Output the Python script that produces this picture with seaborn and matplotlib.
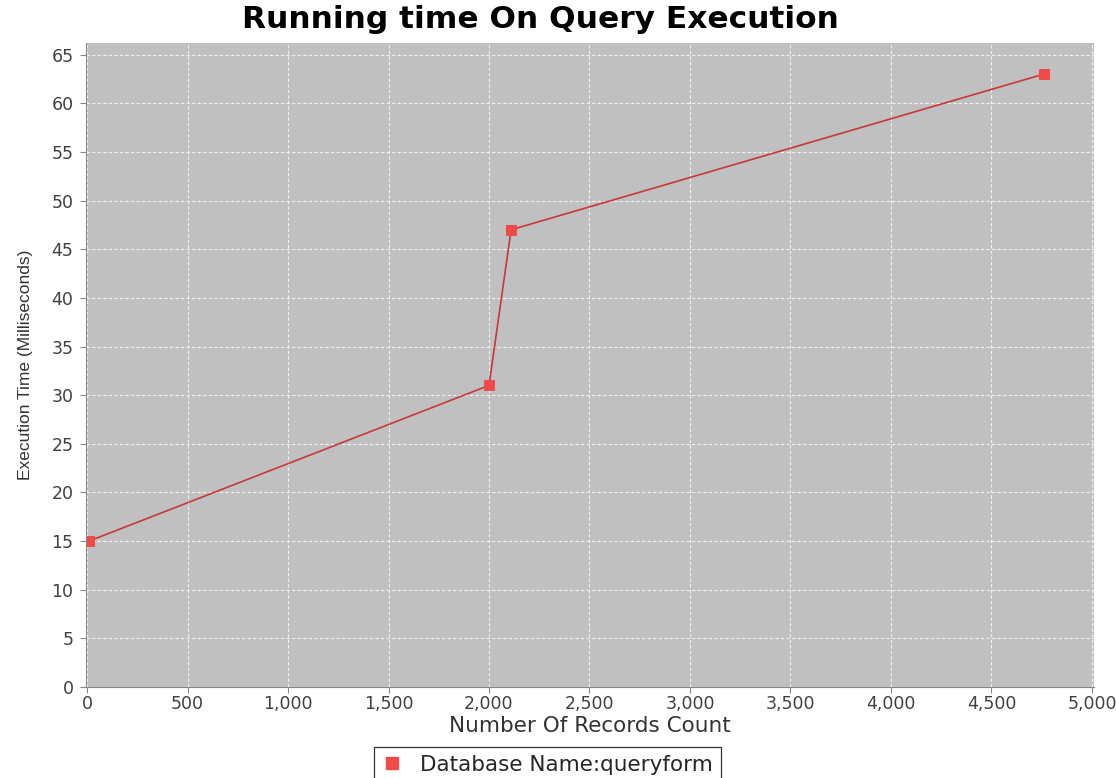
import matplotlib
matplotlib.use("Agg")
import matplotlib.pyplot as plt
import matplotlib.ticker as mticker
from matplotlib.lines import Line2D
import seaborn as sns
import pandas as pd

records = [10, 2000, 2110, 4760]
exec_ms = [15, 31, 47, 63]
series_name = "Database Name:queryform"
title = "Running time On Query Execution"
x_label = "Number Of Records Count"
y_label = "Execution Time (Milliseconds)"

df = pd.DataFrame({"records": records, "ms": exec_ms})

sns.set_style("white")
plt.rcParams['font.family'] = ['DejaVu Sans']

W, H = 1116, 778
fig = plt.figure(figsize=(W / 100, H / 100), dpi=100)
left, right, top, bottom = 86, 1094, 43, 687
ax = fig.add_axes([left / W, 1 - bottom / H, (right - left) / W, (bottom - top) / H])
ax.set_facecolor('#c0c0c0')

sns.lineplot(data=df, x="records", y="ms", ax=ax, color='#c83838', linewidth=1.2,
             marker='s', markersize=7.5, markerfacecolor='#f04a4a', markeredgecolor='#f04a4a',
             sort=False)

ax.set_xlim(-5, 5010)
ax.set_ylim(0, 66.2)
ax.xaxis.set_major_locator(mticker.MultipleLocator(500))
ax.yaxis.set_major_locator(mticker.MultipleLocator(5))
ax.xaxis.set_major_formatter(mticker.FuncFormatter(lambda v, p: f"{int(v):,}"))
ax.grid(True, color='#f2f2f2', linestyle=(0, (3, 2)), linewidth=0.8)
ax.set_axisbelow(True)
for s in ax.spines.values():
    s.set_visible(False)
for side in ('left', 'bottom'):
    ax.spines[side].set_visible(True)
    ax.spines[side].set_color('#888888')
ax.tick_params(axis='x', which='major', pad=2)
ax.tick_params(axis='y', which='major', pad=5)
ax.tick_params(axis='both', which='major', direction='out', length=4, color='#888888',
               labelsize=12.5, labelcolor='#404040', left=True, bottom=True)

ax.set_xlabel(x_label, fontsize=15.5, color='#333333', labelpad=2)
ax.set_ylabel(y_label, fontsize=12.5, color='#333333', labelpad=13,
              family=['Liberation Sans Narrow', 'Liberation Sans', 'DejaVu Sans'])
fig.text(0.5 * (237 + 843) / W, 1 - 19 / H, title, fontsize=22.5, fontweight='bold',
         ha='center', va='center', color='black')

handle = Line2D([], [], linestyle='none', marker='s', markersize=8,
                markerfacecolor='#f04a4a', markeredgecolor='#f04a4a')
leg = fig.legend([handle], [series_name], loc='upper center',
                 bbox_to_anchor=(0.5 * (369 + 726) / W, 1 - 747 / H),
                 frameon=True, fancybox=False, edgecolor='black', fontsize=15.5,
                 handlelength=1.0, handletextpad=0.8, borderpad=0.35, borderaxespad=0)
leg.get_frame().set_linewidth(0.9)

fig.savefig("out.png", dpi=100)
